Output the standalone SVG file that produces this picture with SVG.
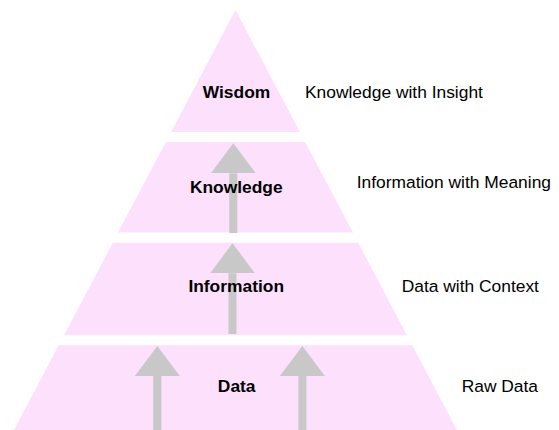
<svg xmlns="http://www.w3.org/2000/svg" width="559" height="430" viewBox="0 0 559 430">
  <style>
    .tier { fill: #fce0fc; stroke: none; }
    .name { font-family: "Liberation Sans", Arial, sans-serif; font-size: 17.4px; font-weight: bold; fill: #000; text-anchor: middle; }
    .desc { font-family: "Liberation Sans", Arial, sans-serif; font-size: 17.4px; fill: #000; }
    .flow { stroke: #c8c8c8; stroke-width: 8; fill: none; }
  </style>
  <defs>
    <marker id="head" viewBox="0 0 30 45" refX="0" refY="22.5" markerWidth="30" markerHeight="45" markerUnits="userSpaceOnUse" orient="auto">
      <path d="M0,0 L30,22.5 L0,45 Z" fill="#c8c8c8"/>
    </marker>
  </defs>
  <rect width="559" height="430" fill="#ffffff"/>

  <!-- pyramid tiers -->
  <g id="wisdom">
    <polygon class="tier" points="235.5,10 299.8,132 171.2,132"/>
  </g>
  <g id="knowledge">
    <polygon class="tier" points="166,142 305,142 353,232.5 118,232.5"/>
  </g>
  <g id="information">
    <polygon class="tier" points="112.9,242.7 358.1,242.7 406.9,335.3 64.1,335.3"/>
  </g>
  <g id="data">
    <polygon class="tier" points="58.8,345.3 412.2,345.3 458,432 13,432"/>
  </g>

  <!-- upward flow arrows -->
  <g id="connectors">
    <line class="flow" x1="157.3" y1="432" x2="157.3" y2="376" marker-end="url(#head)"/>
    <line class="flow" x1="302.4" y1="432" x2="302.4" y2="376" marker-end="url(#head)"/>
    <line class="flow" x1="232.5" y1="334" x2="232.5" y2="273.3" marker-end="url(#head)"/>
    <line class="flow" x1="233.3" y1="233" x2="233.3" y2="173.3" marker-end="url(#head)"/>
  </g>

  <!-- tier labels, drawn above the arrows -->
  <g id="labels">
    <g id="wisdom-label">
      <text class="name" x="236.5" y="98">Wisdom</text>
      <text class="desc" x="305" y="98.3">Knowledge with Insight</text>
    </g>
    <g id="knowledge-label">
      <text class="name" x="236.3" y="193.3">Knowledge</text>
      <text class="desc" x="356.7" y="188.3">Information with Meaning</text>
    </g>
    <g id="information-label">
      <text class="name" x="236.2" y="291.7">Information</text>
      <text class="desc" x="401.7" y="291.7">Data with Context</text>
    </g>
    <g id="data-label">
      <text class="name" x="236.7" y="392.3">Data</text>
      <text class="desc" x="461.7" y="392.3">Raw Data</text>
    </g>
  </g>
</svg>
